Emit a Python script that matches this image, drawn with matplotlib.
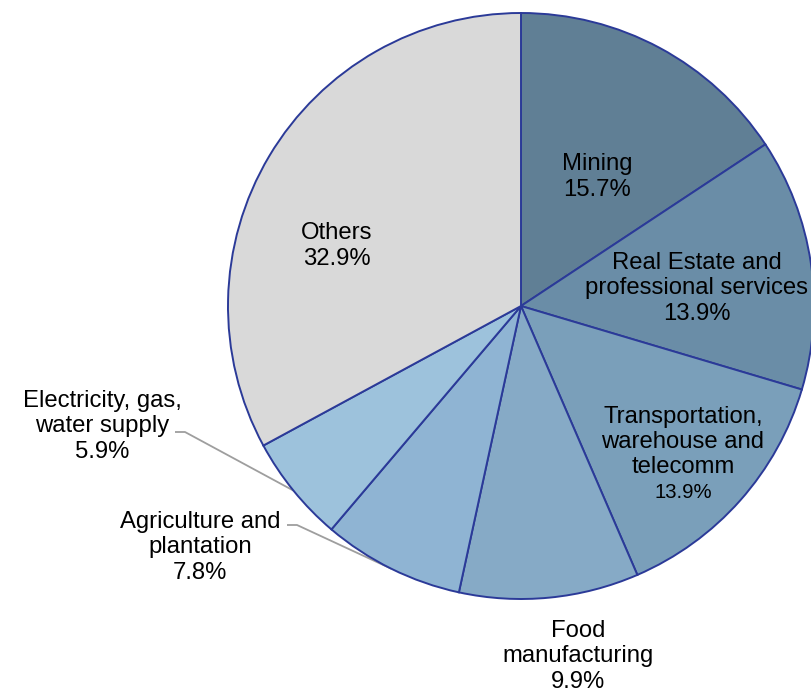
import numpy as np
import matplotlib.pyplot as plt

# slice data, clockwise from 12 o'clock
sectors = ['Mining', 'Real Estate and\nprofessional services', 'Transportation,\nwarehouse and\ntelecomm',
           'Food\nmanufacturing', 'Agriculture and\nplantation', 'Electricity, gas,\nwater supply', 'Others']
shares = [15.7, 13.9, 13.9, 9.9, 7.8, 5.9, 32.9]
colors = ['#607F95', '#6A8DA7', '#7A9FBA', '#86AAC6', '#8FB4D3', '#9DC2DC', '#D9D9D9']

# centre of the percentage line of each label, in picture pixels (x, y from top)
label_pos = [(597, 190), (697, 314), (683, 492), (578, 682), (200, 573), (102, 452), (337, 259)]
value_size = [17.2, 17.2, 14.6, 17.2, 17.2, 17.2, 17.2]
# labels that sit outside the pie get a leader line: index -> start point of the leader
leaders = {4: (287, 525), 5: (175, 432)}

W, H = 812, 692
cx, cy, r = 521, 306, 293

fig = plt.figure(figsize=(W / 100, H / 100), dpi=100)
ax = fig.add_axes([0, 0, 1, 1])

wedges, _ = ax.pie(shares, colors=colors, startangle=90, counterclock=False,
                   radius=r, center=(cx, H - cy),
                   wedgeprops=dict(edgecolor='#2B3A98', linewidth=1.4))

ax.set_xlim(0, W)
ax.set_ylim(0, H)
ax.set_aspect('equal')
ax.axis('off')

for i, (name, val) in enumerate(zip(sectors, shares)):
    x, y = label_pos[i]
    vt = ax.text(x, H - y, f'{val:.1f}%', ha='center', va='center',
                 fontsize=value_size[i], family='Liberation Sans', color='black')
    ax.annotate(name, xy=(0.5, 1), xycoords=vt, xytext=(0, 3.2), textcoords='offset points',
                ha='center', va='bottom', multialignment='center',
                fontsize=17.2, family='Liberation Sans', color='black', linespacing=1.17)

    if i in leaders:
        w = wedges[i]
        mid = np.deg2rad((w.theta1 + w.theta2) / 2)
        ex = cx + r * np.cos(mid)
        ey = (H - cy) + r * np.sin(mid)
        sx, sy = leaders[i]
        ax.plot([sx, sx + 10, ex], [H - sy, H - sy, ey], color='#9E9E9E', linewidth=1.3,
                solid_capstyle='butt', zorder=0.5)

fig.savefig('out.png', dpi=100)
